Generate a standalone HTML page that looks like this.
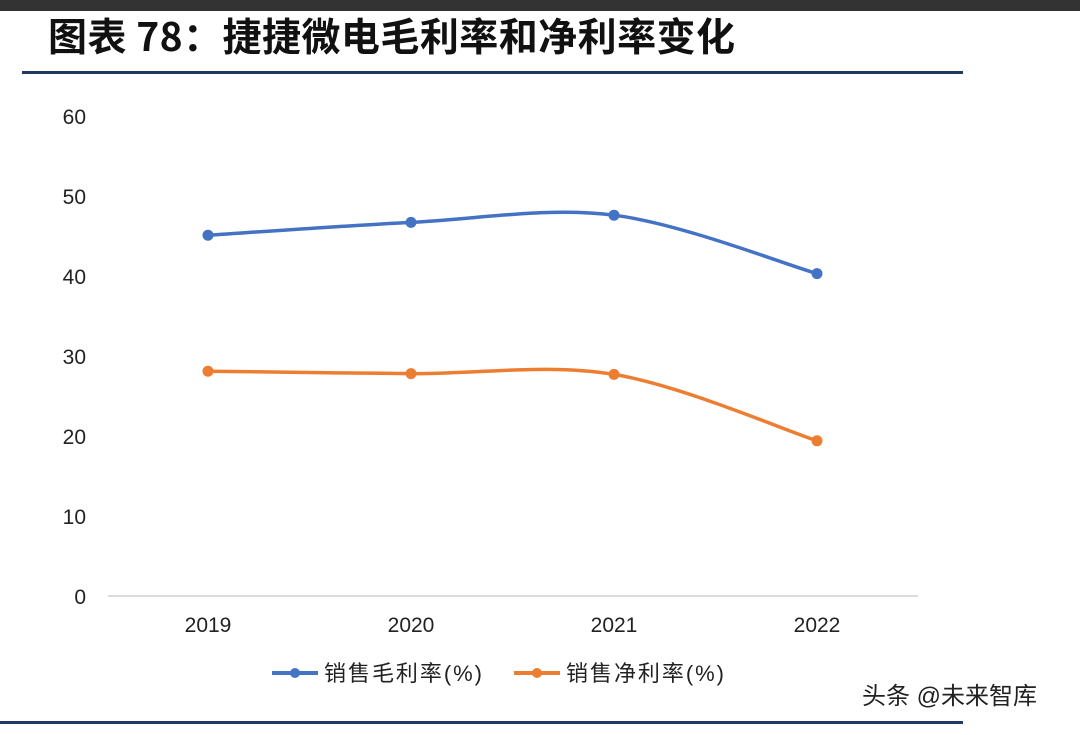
<!DOCTYPE html>
<html><head><meta charset="utf-8"><style>
body{margin:0;width:1080px;height:730px;background:#fff;overflow:hidden;font-family:"Liberation Sans","Noto Sans CJK SC",sans-serif}
</style></head><body>
<svg width="1080" height="730" xmlns="http://www.w3.org/2000/svg">
<rect x="0" y="0" width="1080" height="11" fill="#333"/>
<text x="48" y="51" font-size="39" font-weight="bold" font-family="'Noto Sans CJK SC',sans-serif" fill="#111" textLength="687">图表 78：捷捷微电毛利率和净利率变化</text>
<rect x="22" y="71" width="941" height="3" fill="#1f3864"/>
<rect x="0" y="721" width="963" height="3" fill="#1f3864"/>
<g id="axes"></g>
<g id="series"></g>
<g>
<line x1="272" y1="673" x2="318" y2="673" stroke="#4472c4" stroke-width="4"/>
<circle cx="295" cy="673" r="5" fill="#4472c4"/>
<text x="324" y="681" font-size="22" fill="#222" textLength="158">销售毛利率(%)</text>
<line x1="514" y1="673" x2="560" y2="673" stroke="#ed7d31" stroke-width="4"/>
<circle cx="537" cy="673" r="5" fill="#ed7d31"/>
<text x="566" y="681" font-size="22" fill="#222" textLength="158">销售净利率(%)</text>
</g>
<text x="862" y="704" font-size="24" fill="#222">头条 @未来智库</text>
</svg>
<script>
const categories=["2019","2020","2021","2022"];
const grossMargin=[45.1,46.7,47.6,40.3];
const netMargin=[28.1,27.8,27.7,19.4];
const yTicks=[0,10,20,30,40,50,60];
const NS="http://www.w3.org/2000/svg";
const xS=i=>208+i*203;
const yS=v=>596-v*8;
const axes=document.getElementById('axes');
const series=document.getElementById('series');
function mk(t,a,p){const e=document.createElementNS(NS,t);for(const k in a)e.setAttribute(k,a[k]);p.appendChild(e);return e;}
const base=mk('line',{x1:108,y1:596,x2:918,y2:596,stroke:'#d0d0d0','stroke-width':1.5},axes);


yTicks.forEach(v=>{const t=mk('text',{x:86,y:yS(v)+8,'font-size':21,fill:'#222','text-anchor':'end'},axes);t.textContent=v;

});
categories.forEach((c,i)=>{const t=mk('text',{x:xS(i),y:632,'font-size':21,fill:'#222','text-anchor':'middle'},axes);t.textContent=c;

});
function smooth(pts){let d=`M${pts[0][0]},${pts[0][1]}`;for(let i=0;i<pts.length-1;i++){const p0=pts[i-1]||pts[i],p1=pts[i],p2=pts[i+1],p3=pts[i+2]||p2;const c1=[p1[0]+(p2[0]-p0[0])/6,p1[1]+(p2[1]-p0[1])/6],c2=[p2[0]-(p3[0]-p1[0])/6,p2[1]-(p3[1]-p1[1])/6];d+=` C${c1[0]},${c1[1]} ${c2[0]},${c2[1]} ${p2[0]},${p2[1]}`;}return d;}
function draw(vals,color,name){const pts=vals.map((v,i)=>[xS(i),yS(v)]);
const p=mk('path',{d:smooth(pts),fill:'none',stroke:color,'stroke-width':3.5},series);


pts.forEach(q=>{const c=mk('circle',{cx:q[0],cy:q[1],r:5.5,fill:color},series);

});}
draw(grossMargin,'#4472c4','gross-margin');
draw(netMargin,'#ed7d31','net-margin');
</script>
</body></html>
